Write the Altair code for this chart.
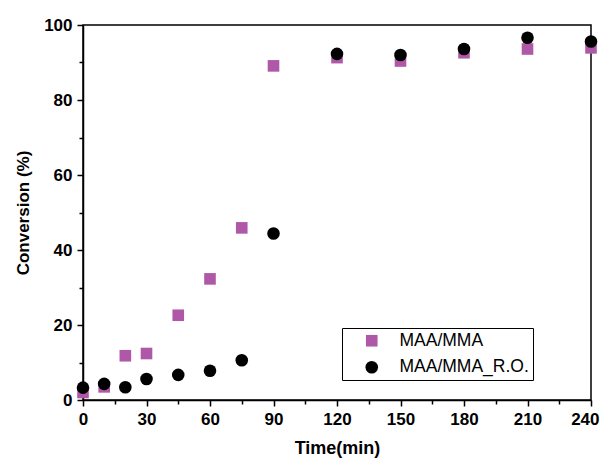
import altair as alt
import pandas as pd

times = [0, 10, 20, 30, 45, 60, 75, 90, 120, 150, 180, 210, 240]
maa_mma = [2.0, 3.5, 11.8, 12.4, 22.6, 32.3, 45.9, 89.1, 91.3, 90.4, 92.6, 93.6, 93.9]
maa_mma_ro = [3.3, 4.3, 3.4, 5.6, 6.7, 7.8, 10.6, 44.4, 92.3, 92.0, 93.6, 96.6, 95.6]
series = ["MAA/MMA", "MAA/MMA_R.O."]
colors = ["#B058A8", "#000000"]
shapes = ["square", "circle"]
sizes = [135, 158]

rows = []
for t, v in zip(times, maa_mma):
    rows.append({"time": t, "conv": v, "series": series[0]})
for t, v in zip(times, maa_mma_ro):
    rows.append({"time": t, "conv": v, "series": series[1]})
df = pd.DataFrame(rows)

font = "Liberation Sans"

chart = alt.Chart(df).mark_point(filled=True, opacity=1).encode(
    x=alt.X("time:Q", title="Time(min)",
            scale=alt.Scale(domain=[0, 240], nice=False, zero=False),
            axis=alt.Axis(values=list(range(0, 241, 15)),
                          labelExpr="datum.value % 30 === 0 ? datum.label : ''",
                          tickSize={"condition": {"test": "datum.value % 30 === 0", "value": 6}, "value": 4},
                          labelAlign={"condition": {"test": "datum.value === 240", "value": "right"}, "value": "center"},
                          labelOffset={"condition": {"test": "datum.value === 240", "value": 8}, "value": 0},
                          grid=False, domainColor="black", domainWidth=1.5,
                          tickColor="black", tickWidth=1.5,
                          labelFont=font, labelFontSize=17, labelFontWeight="bold", labelColor="black",
                          labelPadding=5, labelFlush=False,
                          titleFont=font, titleFontSize=18, titleFontWeight="bold", titleColor="black",
                          titlePadding=12)),
    y=alt.Y("conv:Q", title="Conversion (%)",
            scale=alt.Scale(domain=[0, 100], nice=False),
            axis=alt.Axis(values=list(range(0, 101, 10)),
                          labelExpr="datum.value % 20 === 0 ? datum.label : ''",
                          tickSize={"condition": {"test": "datum.value % 20 === 0", "value": 6}, "value": 4},
                          grid=False, domainColor="black", domainWidth=1.5,
                          tickColor="black", tickWidth=1.5,
                          labelFont=font, labelFontSize=17, labelFontWeight="bold", labelColor="black",
                          labelPadding=5, labelFlush=False,
                          titleFont=font, titleFontSize=17, titleFontWeight="bold", titleColor="black",
                          titlePadding=11)),
    color=alt.Color("series:N", scale=alt.Scale(domain=series, range=colors), title=None),
    shape=alt.Shape("series:N", scale=alt.Scale(domain=series, range=shapes), title=None),
    size=alt.Size("series:N", scale=alt.Scale(domain=series, range=sizes), title=None),
).properties(
    width=508, height=375,
    autosize=alt.AutoSizeParams(type="none"),
    padding={"left": 75, "top": 17, "right": 9, "bottom": 59},
).configure_view(
    stroke="black", strokeWidth=1.5
).configure_legend(
    orient="none", legendX=259, legendY=303,
    strokeColor="black", fillColor="white", padding=4,
    labelFont=font, labelFontSize=17.5, labelColor="black", labelLimit=300,
    rowPadding=7.5, symbolOffset=17, labelOffset=19,
)

chart.save("out.html", embed_options={"renderer": "svg", "actions": False})
